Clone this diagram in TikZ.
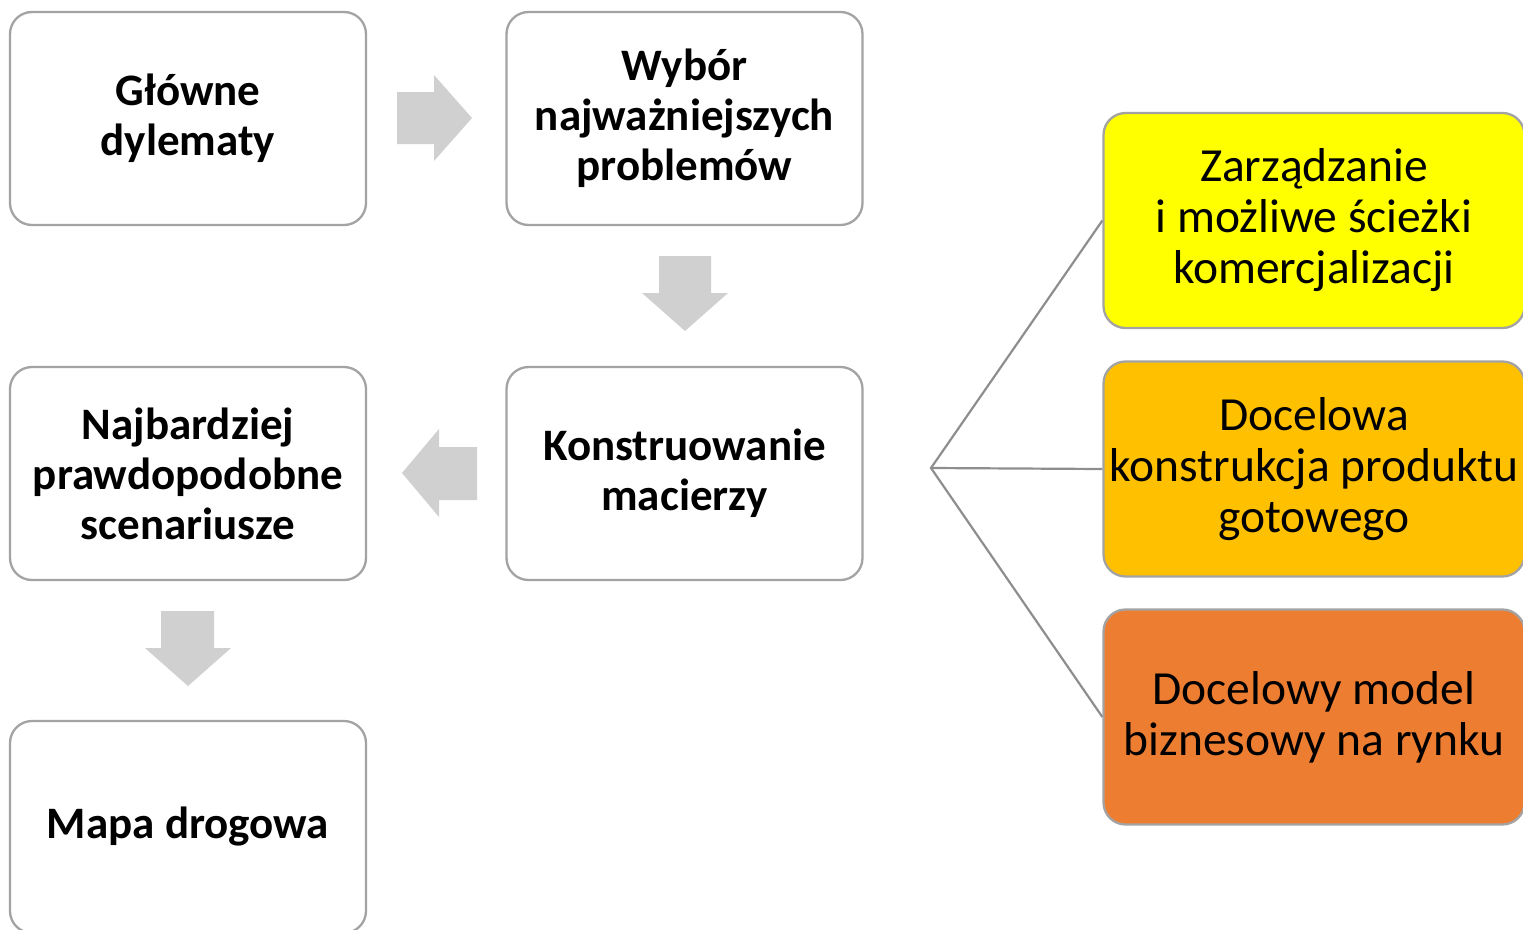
\documentclass[tikz,border=0pt]{standalone}
\usepackage{fontspec}
\setmainfont{Carlito}
\definecolor{boxline}{HTML}{A3A3A3}
\definecolor{linkline}{HTML}{8E8E8E}
\definecolor{flowgray}{HTML}{D0D0D0}
\definecolor{yellowbox}{HTML}{FFFF00}
\definecolor{amberbox}{HTML}{FFC000}
\definecolor{orangebox}{HTML}{ED7D31}
\begin{document}
\begin{tikzpicture}[x=1pt,y=-1pt,
  stagebox/.style={draw=boxline, line width=2.3pt, rounded corners=22pt, fill=white,
    minimum width=356pt, minimum height=213pt, align=center,
    font=\fontsize{45}{50}\selectfont\bfseries, inner sep=0pt},
  goalbox/.style={draw=boxline, line width=2.3pt, rounded corners=22pt,
    minimum width=421pt, minimum height=215pt, align=center,
    font=\fontsize{47.5}{51}\selectfont, inner sep=0pt},
  flowarrow/.style={fill=flowgray, draw=none},
  branch/.style={draw=linkline, line width=2.2pt}]
\useasboundingbox (0,0) rectangle (1523,929);
\clip (0,0) rectangle (1523,929);

% process stages
\node[stagebox] (dyl) at (188,118.5) {Główne\\dylematy};
\node[stagebox] (wyb) at (684.5,118.5) {Wybór\\najważniejszych\\problemów};
\node[stagebox] (kon) at (684.5,473.5) {Konstruowanie\\macierzy};
\node[stagebox] (scn) at (188,473.5) {Najbardziej\\prawdopodobne\\scenariusze};
\node[stagebox, minimum height=212pt] (map) at (188,827) {Mapa drogowa};

% outcomes of the matrix
\node[goalbox, fill=yellowbox] (zar) at (1314,220.5) {Zarządzanie\\i możliwe ścieżki\\komercjalizacji};
\node[goalbox, fill=amberbox] (kpr) at (1314,469) {Docelowa\\konstrukcja produktu\\gotowego};
\node[goalbox, fill=orangebox] (mod) at (1314,717) {Docelowy model\\biznesowy na rynku};

% block arrows between the stages
\fill[flowarrow] (397,92) -- (434,92) -- (434,75) -- (472,118) -- (434,161) -- (434,144) -- (397,144) -- cycle;
\fill[flowarrow] (659,256) -- (711,256) -- (711,293) -- (728,293) -- (685,331) -- (642,293) -- (659,293) -- cycle;
\fill[flowarrow] (477,447) -- (439,447) -- (439,429) -- (402,473) -- (439,517) -- (439,500) -- (477,500) -- cycle;
\fill[flowarrow] (161,611) -- (214,611) -- (214,648) -- (231,648) -- (188,686) -- (145,648) -- (161,648) -- cycle;

% branching lines
\coordinate (fork) at (931,468);
\draw[branch] (zar.west) -- (fork) -- (mod.west);
\draw[branch] (fork) -- (kpr.west);
\end{tikzpicture}
\end{document}
